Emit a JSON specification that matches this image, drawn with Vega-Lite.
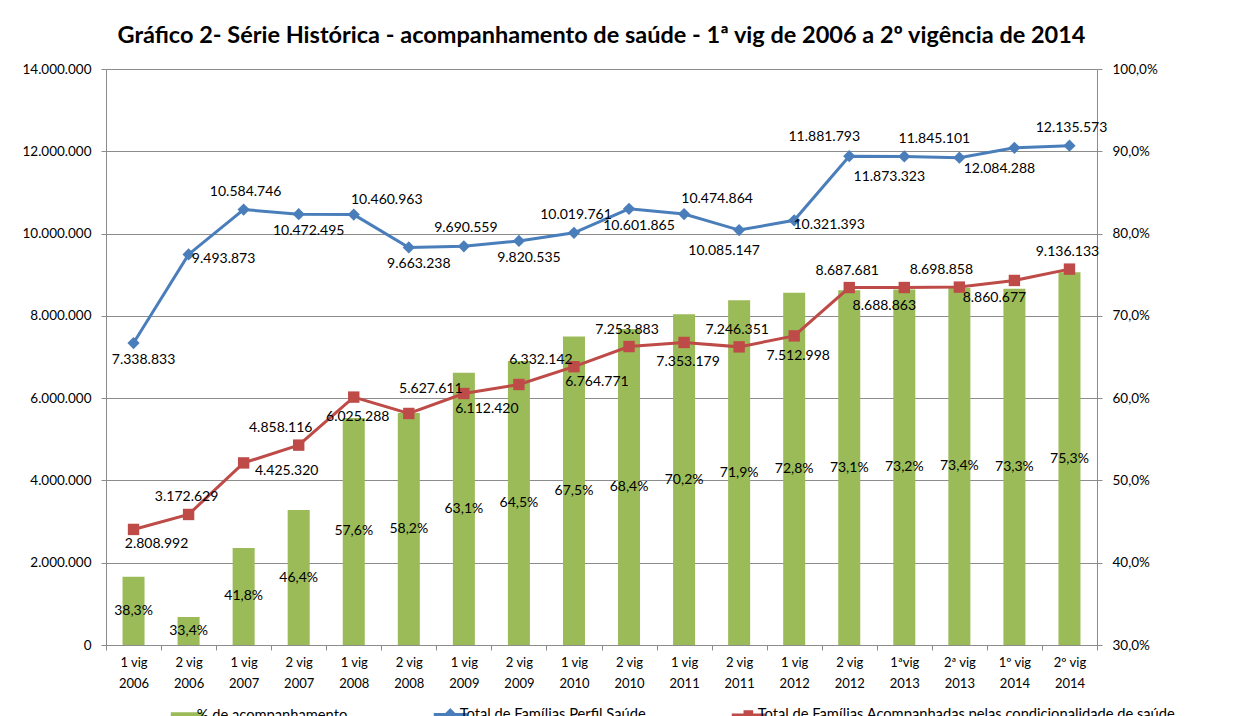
{
  "$schema": "https://vega.github.io/schema/vega-lite/v6.json",
  "width": 991,
  "height": 576,
  "autosize": {"type": "none"},
  "padding": {"left": 106, "top": 69, "right": 149, "bottom": 71},
  "background": "white",
  "title": {
    "text": "Gráfico 2- Série Histórica - acompanhamento de saúde - 1ª vig de 2006 a 2º vigência de 2014",
    "font": "Lato", "fontSize": 23.5, "fontWeight": "bold", "color": "#000000",
    "anchor": "middle", "offset": 15
  },
  "config": {
    "locale": {"number": {"decimal": ",", "thousands": ".", "grouping": [3], "currency": ["R$", ""]}},
    "view": {"stroke": null},
    "font": "Lato",
    "axis": {
      "labelFont": "Lato", "labelFontSize": 13.5, "labelColor": "#000000",
      "domainColor": "#8c8c8c", "tickColor": "#8c8c8c", "gridColor": "#8c8c8c",
      "tickSize": 5, "labelPadding": 10
    },
    "text": {"font": "Lato", "fontSize": 14, "color": "#000000"}
  },
  "data": {
    "values": [
      {"cat": "1 vig|2006", "pct": 0.383, "perfil": 7338833, "acomp": 2808992},
      {"cat": "2 vig|2006", "pct": 0.334, "perfil": 9493873, "acomp": 3172629},
      {"cat": "1 vig|2007", "pct": 0.418, "perfil": 10584746, "acomp": 4425320},
      {"cat": "2 vig|2007", "pct": 0.464, "perfil": 10472495, "acomp": 4858116},
      {"cat": "1 vig|2008", "pct": 0.576, "perfil": 10460963, "acomp": 6025288},
      {"cat": "2 vig|2008", "pct": 0.582, "perfil": 9663238, "acomp": 5627611},
      {"cat": "1 vig|2009", "pct": 0.631, "perfil": 9690559, "acomp": 6112420},
      {"cat": "2 vig|2009", "pct": 0.645, "perfil": 9820535, "acomp": 6332142},
      {"cat": "1 vig|2010", "pct": 0.675, "perfil": 10019761, "acomp": 6764771},
      {"cat": "2 vig|2010", "pct": 0.684, "perfil": 10601865, "acomp": 7253883},
      {"cat": "1 vig|2011", "pct": 0.702, "perfil": 10474864, "acomp": 7353179},
      {"cat": "2 vig|2011", "pct": 0.719, "perfil": 10085147, "acomp": 7246351},
      {"cat": "1 vig|2012", "pct": 0.728, "perfil": 10321393, "acomp": 7512998},
      {"cat": "2 vig|2012", "pct": 0.731, "perfil": 11881793, "acomp": 8687681},
      {"cat": "1ªvig|2013", "pct": 0.732, "perfil": 11873323, "acomp": 8688863},
      {"cat": "2ª vig|2013", "pct": 0.734, "perfil": 11845101, "acomp": 8698858},
      {"cat": "1º vig|2014", "pct": 0.733, "perfil": 12084288, "acomp": 8860677},
      {"cat": "2º vig|2014", "pct": 0.753, "perfil": 12135573, "acomp": 9136133}
    ]
  },
  "encoding": {
    "x": {
      "field": "cat", "type": "nominal", "sort": null,
      "scale": {"paddingInner": 0, "paddingOuter": 0},
      "axis": {
        "title": null, "labelAngle": 0, "labelExpr": "isString(datum.value) ? split(datum.value, '|') : ''",
        "tickBand": "extent", "labelLineHeight": 21, "labelPadding": 6,
        "labelBaseline": "top", "labelFontSize": 13, "grid": false
      }
    }
  },
  "layer": [
    {
      "mark": {"type": "bar", "width": {"band": 0.4}},
      "encoding": {
        "y": {
          "field": "pct", "type": "quantitative",
          "scale": {"domain": [0.3, 1.0], "nice": false, "zero": false},
          "axis": {"orient": "right", "title": null, "values": [0.3, 0.4, 0.5, 0.6, 0.7, 0.8, 0.9, 1.0], "format": ".1%", "grid": false}
        },
        "y2": {"datum": 0.3},
        "color": {
          "datum": "% de acompanhamento", "type": "nominal",
          "scale": {
            "domain": ["% de acompanhamento", "Total de Famílias Perfil Saúde", "Total de Famílias Acompanhadas pelas condicionalidade de saúde"],
            "range": ["#9BBB59", "#4A7EBB", "#BE4B48"]
          },
          "legend": {
            "orient": "none", "legendX": 74, "legendY": 638, "direction": "horizontal", "columns": 3,
            "title": null, "labelFont": "Lato", "labelFontSize": 14.7, "labelColor": "#000000",
            "labelLimit": 600, "symbolSize": 1100, "labelOffset": 2, "columnPadding": 79, "padding": 0,
            "encode": {
              "symbols": {
                "update": {
                  "fill": {"scale": "color", "field": "value"},
                  "stroke": {"scale": "color", "field": "value"},
                  "opacity": {"value": 1},
                  "strokeWidth": {"signal": "datum.value === '% de acompanhamento' ? 0 : 3"},
                  "shape": {"signal": "datum.value === '% de acompanhamento' ? 'M-1,-0.25H1V0.25H-1Z' : (datum.value === 'Total de Famílias Perfil Saúde' ? 'M-1,0H1M0,-0.26L0.26,0L0,0.26L-0.26,0Z' : 'M-1,0H1M-0.2,-0.2H0.2V0.2H-0.2Z')"}
                }
              }
            }
          }
        }
      }
    },
    {
      "mark": {"type": "text", "baseline": "middle", "align": "center"},
      "encoding": {
        "y": {"field": "pct", "type": "quantitative", "scale": {"domain": [0.3, 1.7], "nice": false, "zero": false}, "axis": null},
        "text": {"field": "pct", "type": "quantitative", "format": ".1%"}
      }
    },
    {
      "encoding": {
        "y": {
          "field": "perfil", "type": "quantitative",
          "scale": {"domain": [0, 14000000], "nice": false},
          "axis": {"orient": "left", "title": null, "values": [0, 2000000, 4000000, 6000000, 8000000, 10000000, 12000000, 14000000], "format": ",d", "grid": true}
        }
      },
      "layer": [
        {
          "mark": {"type": "line", "strokeWidth": 3, "point": {"shape": "diamond", "size": 150, "filled": true, "opacity": 1}},
          "encoding": {"color": {"datum": "Total de Famílias Perfil Saúde", "type": "nominal"}}
        },
        {
          "mark": {"type": "line", "strokeWidth": 3, "point": {"shape": "square", "size": 130, "filled": true, "opacity": 1}},
          "encoding": {
            "y": {"field": "acomp", "type": "quantitative"},
            "color": {"datum": "Total de Famílias Acompanhadas pelas condicionalidade de saúde", "type": "nominal"}
          }
        },
        {
          "transform": [{"filter": {"field": "cat", "oneOf": ["1 vig|2007", "1 vig|2009", "1 vig|2010", "2º vig|2014"]}}],
          "mark": {"type": "text", "dx": 2, "dy": -18},
          "encoding": {"text": {"field": "perfil", "type": "quantitative", "format": ",d"}}
        },
        {
          "transform": [{"filter": {"field": "cat", "oneOf": ["1 vig|2008", "1 vig|2011"]}}],
          "mark": {"type": "text", "dx": 33, "dy": -15},
          "encoding": {"text": {"field": "perfil", "type": "quantitative", "format": ",d"}}
        },
        {
          "transform": [{"filter": {"field": "cat", "oneOf": ["2 vig|2012", "2ª vig|2013"]}}],
          "mark": {"type": "text", "dx": -25, "dy": -19},
          "encoding": {"text": {"field": "perfil", "type": "quantitative", "format": ",d"}}
        },
        {
          "transform": [{"filter": {"field": "cat", "oneOf": ["1 vig|2006", "2 vig|2007", "2 vig|2008", "2 vig|2009", "2 vig|2010"]}}],
          "mark": {"type": "text", "dx": 10, "dy": 17},
          "encoding": {"text": {"field": "perfil", "type": "quantitative", "format": ",d"}}
        },
        {
          "transform": [{"filter": {"field": "cat", "oneOf": ["2 vig|2011", "1ªvig|2013", "1º vig|2014"]}}],
          "mark": {"type": "text", "dx": -15, "dy": 21},
          "encoding": {"text": {"field": "perfil", "type": "quantitative", "format": ",d"}}
        },
        {
          "transform": [{"filter": {"field": "cat", "oneOf": ["2 vig|2006", "1 vig|2012"]}}],
          "mark": {"type": "text", "dx": 35, "dy": 5},
          "encoding": {"text": {"field": "perfil", "type": "quantitative", "format": ",d"}}
        },
        {
          "transform": [{"filter": {"field": "cat", "oneOf": ["2 vig|2006", "2 vig|2010", "2 vig|2011", "2 vig|2012", "2º vig|2014"]}}],
          "mark": {"type": "text", "dx": -2, "dy": -17},
          "encoding": {"y": {"field": "acomp", "type": "quantitative"}, "text": {"field": "acomp", "type": "quantitative", "format": ",d"}}
        },
        {
          "transform": [{"filter": {"field": "cat", "oneOf": ["2 vig|2007", "2ª vig|2013"]}}],
          "mark": {"type": "text", "dx": -18, "dy": -17},
          "encoding": {"y": {"field": "acomp", "type": "quantitative"}, "text": {"field": "acomp", "type": "quantitative", "format": ",d"}}
        },
        {
          "transform": [{"filter": {"field": "cat", "oneOf": ["2 vig|2008", "2 vig|2009"]}}],
          "mark": {"type": "text", "dx": 22, "dy": -24},
          "encoding": {"y": {"field": "acomp", "type": "quantitative"}, "text": {"field": "acomp", "type": "quantitative", "format": ",d"}}
        },
        {
          "transform": [{"filter": {"field": "cat", "oneOf": ["1 vig|2008", "1 vig|2011", "1 vig|2012"]}}],
          "mark": {"type": "text", "dx": 4, "dy": 20},
          "encoding": {"y": {"field": "acomp", "type": "quantitative"}, "text": {"field": "acomp", "type": "quantitative", "format": ",d"}}
        },
        {
          "transform": [{"filter": {"field": "cat", "oneOf": ["1 vig|2006", "1 vig|2009", "1 vig|2010"]}}],
          "mark": {"type": "text", "dx": 23, "dy": 15},
          "encoding": {"y": {"field": "acomp", "type": "quantitative"}, "text": {"field": "acomp", "type": "quantitative", "format": ",d"}}
        },
        {
          "transform": [{"filter": {"field": "cat", "oneOf": ["1 vig|2007"]}}],
          "mark": {"type": "text", "dx": 43, "dy": 8},
          "encoding": {"y": {"field": "acomp", "type": "quantitative"}, "text": {"field": "acomp", "type": "quantitative", "format": ",d"}}
        },
        {
          "transform": [{"filter": {"field": "cat", "oneOf": ["1ªvig|2013", "1º vig|2014"]}}],
          "mark": {"type": "text", "dx": -20, "dy": 18},
          "encoding": {"y": {"field": "acomp", "type": "quantitative"}, "text": {"field": "acomp", "type": "quantitative", "format": ",d"}}
        }
      ]
    }
  ],
  "resolve": {"scale": {"y": "independent"}}
}
